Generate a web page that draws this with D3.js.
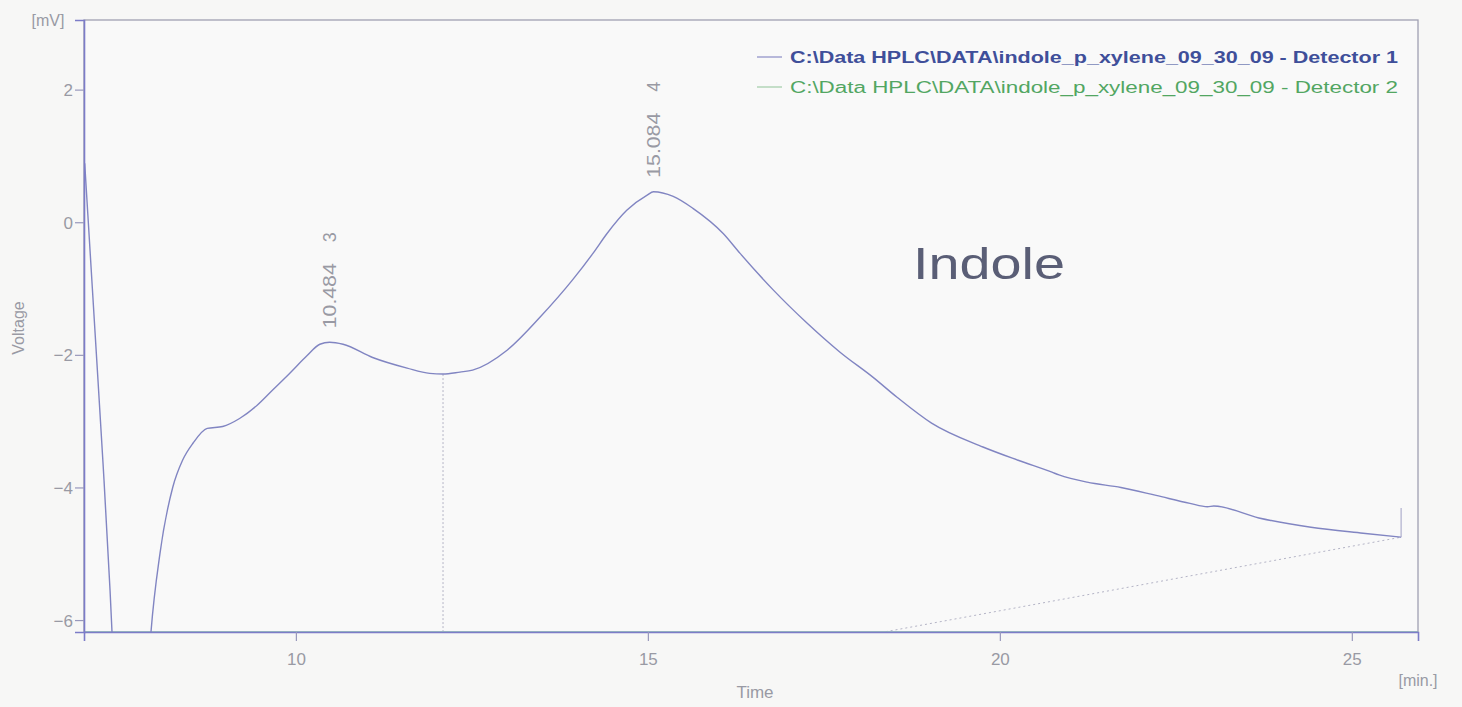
<!DOCTYPE html>
<html>
<head>
<meta charset="utf-8">
<script src="https://cdn.jsdelivr.net/npm/d3@7"></script>
<style>
  html, body { margin: 0; padding: 0; background: #f7f7f6; }
  svg { display: block; }
  text { font-family: "Liberation Sans", Arial, sans-serif; }
</style>
</head>
<body>
<svg id="chart" width="1462" height="707"></svg>
<script>
// ---- data ----
const det1Time = [7.00, 7.045, 7.145, 7.26, 7.36, 7.40, 7.55, 7.80, 7.90, 7.94, 8.07, 8.25, 8.39, 8.54, 8.74, 8.96, 9.20, 9.45, 9.67, 9.91, 10.16, 10.34, 10.48, 10.67, 11.09, 11.58, 11.90, 12.09, 12.33, 12.51, 13.00, 13.47, 13.93, 14.22, 14.42, 14.70, 14.99, 15.08, 15.36, 15.64, 16.07, 16.31, 16.78, 17.26, 17.73, 18.20, 18.54, 19.03, 19.76, 20.26, 20.74, 20.84, 21.24, 21.72, 22.22, 22.70, 22.95, 23.04, 23.68, 24.42, 25.16, 25.70];
const det1Volt = [0.89, 0.11, -1.63, -3.63, -5.55, -6.45, -8.50, -8.50, -6.80, -6.20, -4.99, -4.00, -3.59, -3.33, -3.11, -3.08, -2.96, -2.76, -2.53, -2.28, -2.01, -1.84, -1.81, -1.84, -2.04, -2.20, -2.28, -2.29, -2.26, -2.23, -1.93, -1.43, -0.87, -0.47, -0.17, 0.18, 0.41, 0.46, 0.39, 0.21, -0.17, -0.47, -1.02, -1.52, -1.96, -2.34, -2.64, -3.03, -3.39, -3.59, -3.77, -3.81, -3.92, -4.00, -4.12, -4.24, -4.29, -4.28, -4.46, -4.60, -4.69, -4.75];
const det2Time = [7.00, 25.94];
const det2Volt = [-6.18, -6.18];

const peakTimes  = [10.484, 15.084];
const peakVolts  = [-1.81, 0.46];
const peakLabels = ["10.484", "15.084"];
const peakIds    = ["3", "4"];

const dropTime = 12.09, dropVolt = -2.29;
const baselineTime = [12.09, 25.70];
const baselineVolt = [-7.40, -4.75];
const endMarkTime = 25.70, endMarkVolt = [-4.75, -4.31];

const xTicks = [10, 15, 20, 25];
const yTicks = [2, 0, -2, -4, -6];
const legendLabels = ["C:\\Data HPLC\\DATA\\indole_p_xylene_09_30_09 - Detector 1",
                      "C:\\Data HPLC\\DATA\\indole_p_xylene_09_30_09 - Detector 2"];

// ---- layout ----
const svg = d3.select("#chart");
const L = 84, R = 1418, T = 20, B = 632;
const x = d3.scaleLinear().domain([6.99, 25.94]).range([L, R]);
const y = d3.scaleLinear().domain([-6.18, 3.05]).range([B, T]);

const axisCol = "#7c7cc8", frameCol = "#a0a0b2", tickTxt = "#999aa4";
const curveCol = "#8185c2", det2Col = "#7cc4b0";

svg.append("defs").append("clipPath").attr("id", "clip")
  .append("rect").attr("x", L).attr("y", T).attr("width", R - L).attr("height", B - T);

// frame
svg.append("rect").attr("x", L).attr("y", T).attr("width", R - L).attr("height", B - T)
  .attr("fill", "#f9f9f9").attr("stroke", frameCol).attr("stroke-width", 1.3);

const plot = svg.append("g").attr("clip-path", "url(#clip)");

// baseline (dotted)
plot.append("line")
  .attr("x1", x(baselineTime[0])).attr("y1", y(baselineVolt[0]))
  .attr("x2", x(baselineTime[1])).attr("y2", y(baselineVolt[1]))
  .attr("stroke", "#b4b4c6").attr("stroke-width", 1).attr("stroke-dasharray", "2,3");
// drop line (dotted)
plot.append("line")
  .attr("x1", x(dropTime)).attr("y1", y(dropVolt))
  .attr("x2", x(dropTime)).attr("y2", y(baselineVolt[0]))
  .attr("stroke", "#b4b4c6").attr("stroke-width", 1).attr("stroke-dasharray", "2,2");

// detector 2
plot.append("path").datum(det2Time.map((t, i) => [t, det2Volt[i]]))
  .attr("d", d3.line().x(d => x(d[0])).y(d => y(d[1])))
  .attr("fill", "none").attr("stroke", det2Col).attr("stroke-width", 1.2);

// detector 1
plot.append("path").datum(det1Time.map((t, i) => [t, det1Volt[i]]))
  .attr("d", d3.line().x(d => x(d[0])).y(d => y(d[1])).curve(d3.curveMonotoneX))
  .attr("fill", "none").attr("stroke", curveCol).attr("stroke-width", 1.4);

// end marker
plot.append("line")
  .attr("x1", x(endMarkTime)).attr("y1", y(endMarkVolt[0]))
  .attr("x2", x(endMarkTime)).attr("y2", y(endMarkVolt[1]))
  .attr("stroke", "#a0a0c4").attr("stroke-width", 1);

// axes
const yAxis = svg.append("g").attr("transform", `translate(${L},0)`)
  .call(d3.axisLeft(y).tickValues(yTicks).tickSize(9).tickPadding(2).tickFormat(d3.format("d")));
const xAxis = svg.append("g").attr("transform", `translate(0,${B})`)
  .call(d3.axisBottom(x).tickValues(xTicks).tickSize(9).tickPadding(12).tickFormat(d3.format("d")));
[yAxis, xAxis].forEach(g => {
  g.select(".domain").attr("stroke", axisCol).attr("stroke-width", 1.6);
  g.selectAll(".tick line").attr("stroke", "#9898bc").attr("stroke-width", 1.2);
  g.selectAll(".tick text").attr("fill", tickTxt).attr("font-size", 17)
    .attr("font-family", "Liberation Sans, Arial, sans-serif");
});
yAxis.selectAll(".tick text").attr("dy", "0.36em");

// axis titles
svg.append("text").attr("x", 48).attr("y", 26).attr("text-anchor", "middle")
  .attr("fill", tickTxt).attr("font-size", 16).text("[mV]");
svg.append("text").attr("transform", "translate(24,328) rotate(-90)").attr("text-anchor", "middle")
  .attr("fill", tickTxt).attr("font-size", 16).text("Voltage");
svg.append("text").attr("x", 755).attr("y", 698).attr("text-anchor", "middle")
  .attr("fill", tickTxt).attr("font-size", 17).text("Time");
svg.append("text").attr("x", 1418).attr("y", 686).attr("text-anchor", "middle")
  .attr("fill", tickTxt).attr("font-size", 16).text("[min.]");

// peak labels
peakTimes.forEach((t, i) => {
  const px = x(t), py = y(peakVolts[i]) - 14;
  svg.append("text").attr("transform", `translate(${px + 6},${py}) rotate(-90)`)
    .attr("fill", tickTxt).attr("font-size", 18)
    .attr("textLength", 65).attr("lengthAdjust", "spacingAndGlyphs").text(peakLabels[i]);
  svg.append("text").attr("transform", `translate(${px + 6},${py - 86}) rotate(-90)`)
    .attr("fill", tickTxt).attr("font-size", 18).text(peakIds[i]);
});

// legend
const legCols = ["#8a8cc4", "#a0cca6"], legTxt = ["#3f4f9a", "#52a662"];
legendLabels.forEach((lab, i) => {
  const ly = 57 + i * 30;
  svg.append("line").attr("x1", 757).attr("x2", 782).attr("y1", ly).attr("y2", ly)
    .attr("stroke", legCols[i]).attr("stroke-width", 1.2);
  svg.append("text").attr("x", 790).attr("y", ly + 6)
    .attr("fill", legTxt[i]).attr("font-size", 16)
    .attr("font-weight", i === 0 ? "bold" : "normal")
    .attr("textLength", 608).attr("lengthAdjust", "spacingAndGlyphs").text(lab);
});

// handwritten annotation
svg.append("text").attr("x", 913).attr("y", 279)
  .attr("fill", "#5a5e76").attr("font-size", 44).attr("font-weight", 300)
  .attr("font-family", "Lato, 'Noto Sans', sans-serif")
  .attr("textLength", 152).attr("lengthAdjust", "spacingAndGlyphs").text("Indole");
</script>
</body>
</html>
